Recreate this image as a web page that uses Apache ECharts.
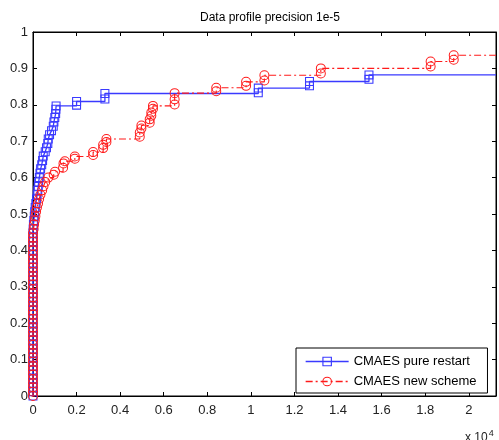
<!DOCTYPE html>
<html>
<head>
<meta charset="utf-8">
<script src="https://cdn.jsdelivr.net/npm/echarts@6/dist/echarts.min.js"></script>
<style>
  html, body { margin: 0; padding: 0; background: #fff; }
  #chart { width: 499px; height: 440px; }
</style>
</head>
<body>
<div id="chart"></div>
<script>
// data (x in function evaluations, y = fraction of problems)
var pureX = [0,0,0,0,0,0,0,0,0,0, 0,0,0,0,0,0,0,0,0,0, 0,0,0,0,0,0,0,0,0,0, 0,0,0,0,0,0,0,0,0,
  10,20,40,60,80,100,130,160,190,220, 240,260,290,320,350,400,440,470,560,620,
  680,700,760,850,930,960,1000,1040,1050,1060,
  2000,2000,3300,3300,10340,10340,12690,12690,15420,15420,21250];
var pureY = [0,0.012,0.024,0.035,0.047,0.059,0.071,0.082,0.094,0.106, 0.118,0.129,0.141,0.153,0.165,0.176,0.188,0.2,0.212,0.224,
  0.235,0.247,0.259,0.271,0.282,0.294,0.306,0.318,0.329,0.341, 0.353,0.365,0.376,0.388,0.4,0.412,0.424,0.435,0.447,
  0.459,0.471,0.482,0.494,0.506,0.518,0.529,0.541,0.553,0.565, 0.576,0.588,0.6,0.612,0.624,0.635,0.647,0.659,0.671,0.682,
  0.694,0.706,0.718,0.729,0.741,0.753,0.765,0.776,0.788,0.797,
  0.799,0.809,0.816,0.831,0.833,0.846,0.852,0.864,0.87,0.882,0.882];

var newX = [0,0,0,0,0,0,0,0,0,0, 0,0,0,0,0,0,0,0,0,0, 0,0,0,0,0,0,0,0,0,0, 0,0,0,0,0,0,0,0,0,
  30,50,80,110,140,180,230,280,340,420, 480,560,700,950,1010,1380,1400,1460,1920,1920,
  2760,2760,3220,3220,3370,3370,4900,4900,4975,4975, 5355,5355,5430,5430,5506,5506,6500,6500,6500,8410,
  8410,9780,9780,10620,10620,13210,13210,18250,18250,19310, 19310,21250];
var newY = [0,0.012,0.024,0.035,0.047,0.059,0.071,0.082,0.094,0.106, 0.118,0.129,0.141,0.153,0.165,0.176,0.188,0.2,0.212,0.224,
  0.235,0.247,0.259,0.271,0.282,0.294,0.306,0.318,0.329,0.341, 0.353,0.365,0.376,0.388,0.4,0.412,0.424,0.435,0.447,
  0.459,0.471,0.482,0.494,0.506,0.518,0.529,0.541,0.553,0.565, 0.576,0.588,0.6,0.608,0.616,0.627,0.639,0.645,0.652,0.658,
  0.662,0.67,0.681,0.69,0.698,0.706,0.712,0.724,0.735,0.743, 0.751,0.76,0.77,0.779,0.789,0.797,0.801,0.815,0.832,0.837,
  0.847,0.852,0.863,0.867,0.881,0.886,0.9,0.905,0.919,0.924, 0.936,0.936];

var seriesNames = ["CMAES pure restart", "CMAES new scheme"];
var xMax = 21250;

// hollow markers (outline only) so the lines show through like matlab
var squareMark = "path://M0,0H10V10H0Z M1.2,1.2V8.8H8.8V1.2Z";
var circleMark = "path://M0,5A5,5 0 1,0 10,5A5,5 0 1,0 0,5Z M1,5A4,4 0 1,1 9,5A4,4 0 1,1 1,5Z";

// pair x/y up, last point only carries the line to the edge (no marker)
function toPoints(xs, ys) {
  var pts = [];
  for (var i = 0; i < xs.length; i++) {
    if (i == xs.length - 1) {
      pts.push({ value: [xs[i], ys[i]], symbol: "none" });
    } else {
      pts.push([xs[i], ys[i]]);
    }
  }
  return pts;
}

var font = "'Liberation Sans', Arial, sans-serif";
var blue = "#3a3aff";
var red = "#ff1a1a";
var chart = echarts.init(document.getElementById("chart"));

var tickStyle = { show: true, inside: true, length: 4, lineStyle: { color: "#000" } };

var option = {
  backgroundColor: "#fff",
  animation: false,
  title: [
    {
      text: "Data profile precision 1e-5",
      left: 265,
      top: 7,
      textAlign: "center",
      textStyle: { fontFamily: font, fontSize: 12, fontWeight: "normal", color: "#000" }
    },
    {
      text: "x 10{sup|4}",
      left: 460,
      top: 424,
      textStyle: {
        fontFamily: font, fontSize: 12, fontWeight: "normal", color: "#222",
        rich: { sup: { fontFamily: font, fontSize: 9, color: "#222", verticalAlign: "top", padding: [0, 0, 8, 1] } }
      }
    }
  ],
  grid: { left: 33, right: 2, top: 32, bottom: 44, show: true, borderColor: "#000", borderWidth: 1 },
  legend: {
    orient: "vertical",
    left: 296,
    top: 348,
    width: 199,
    padding: [7, 11, 5, 9],
    itemGap: 7,
    itemWidth: 43,
    itemHeight: 12,
    backgroundColor: "#fff",
    borderColor: "#000",
    borderWidth: 1,
    borderRadius: 0,
    lineStyle: { width: 1.3 },
    textStyle: { fontFamily: font, fontSize: 13, color: "#000" },
    data: seriesNames
  },
  xAxis: [
    {
      type: "value",
      min: 0,
      max: xMax,
      interval: 2000,
      splitLine: { show: false },
      axisLine: { show: true, onZero: false, lineStyle: { color: "#000" } },
      axisTick: tickStyle,
      axisLabel: {
        color: "#222", fontFamily: font, fontSize: 13, margin: 8,
        formatter: function (v) { return v % 2000 === 0 ? String(v / 10000) : ""; }
      }
    },
    {
      type: "value",
      position: "top",
      min: 0,
      max: xMax,
      interval: 2000,
      splitLine: { show: false },
      axisLine: { show: true, onZero: false, lineStyle: { color: "#000" } },
      axisTick: tickStyle,
      axisLabel: { show: false }
    }
  ],
  yAxis: [
    {
      type: "value",
      min: 0,
      max: 1,
      interval: 0.1,
      splitLine: { show: false },
      axisLine: { show: true, onZero: false, lineStyle: { color: "#000" } },
      axisTick: tickStyle,
      axisLabel: { color: "#222", fontFamily: font, fontSize: 13, margin: 5 }
    },
    {
      type: "value",
      position: "right",
      min: 0,
      max: 1,
      interval: 0.1,
      splitLine: { show: false },
      axisLine: { show: true, onZero: false, lineStyle: { color: "#000" } },
      axisTick: tickStyle,
      axisLabel: { show: false }
    }
  ],
  series: [
    {
      name: seriesNames[0],
      type: "line",
      step: "end",
      clip: false,
      symbol: squareMark,
      symbolSize: 9,
      showAllSymbol: true,
      color: blue,
      itemStyle: { color: blue },
      lineStyle: { color: blue, width: 1.3 },
      data: toPoints(pureX, pureY),
      z: 2
    },
    {
      name: seriesNames[1],
      type: "line",
      step: "end",
      clip: false,
      symbol: circleMark,
      symbolSize: 10,
      showAllSymbol: true,
      color: red,
      itemStyle: { color: red },
      lineStyle: { color: red, width: 1.1, type: [7, 3, 2, 3] },
      data: toPoints(newX, newY),
      z: 3
    }
  ]
};

chart.setOption(option);
</script>
</body>
</html>
